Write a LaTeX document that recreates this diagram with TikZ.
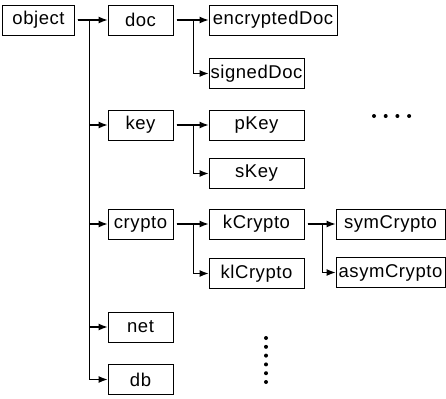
\documentclass[tikz,border=0pt]{standalone}
\usepackage{fontspec}
\setmainfont[LetterSpace=3]{Liberation Sans}
\usetikzlibrary{arrows.meta}
\tikzset{
  box/.style={draw, line width=1bp, minimum height=30bp, inner sep=0pt, font=\fontsize{18.5bp}{20bp}\selectfont},
  link/.style={->, shorten <=3bp},
}
\begin{document}
\begin{tikzpicture}[x=1bp,y=-1bp,line width=1.1bp,>={Latex[length=9bp,width=7bp]}]
	\useasboundingbox (0,0) rectangle (446,398);
	%	first level
	\node[box,minimum width=71bp] (object) at (38.5,20) {object};
	\foreach \name/\y in {doc/20,key/125,crypto/224,net/327,db/379.5}
		\node[box,minimum width=65bp] (\name) at (140.5,\y) {\name};
	%	second level
	\node[box,minimum width=128bp] (encryptedDoc) at (273,20) {encryptedDoc};
	\foreach \name/\y in {signedDoc/73.5,pKey/125,sKey/173.5,kCrypto/224,klCrypto/273.5}
		\node[box,minimum width=95bp] (\name) at (256.5,\y) {\name};
	\node[box,minimum width=109bp] (symCrypto) at (390.5,224) {symCrypto};
	\node[box,minimum width=109bp] (asymCrypto) at (390.5,272.5) {asymCrypto};
	%	connectors
	\draw[link] (object.east) -- (doc.west);
	\foreach \child in {key,crypto,net,db}
		\draw[link] (object.east) -- ++(15,0) |- (\child.west);
	\draw[link] (doc.east) -- (encryptedDoc.west);
	\draw[link] (doc.east) -- ++(20,0) |- (signedDoc.west);
	\draw[link] (key.east) -- (pKey.west);
	\draw[link] (key.east) -- ++(20,0) |- (sKey.west);
	\draw[link] (crypto.east) -- (kCrypto.west);
	\draw[link] (crypto.east) -- ++(20,0) |- (klCrypto.west);
	\draw[link] (kCrypto.east) -- (symCrypto.west);
	\draw[link] (kCrypto.east) -- ++(18,0) |- (asymCrypto.west);
	%	dots
	\foreach \i in {0,...,3}
		\fill (374+11.7*\i,116) circle(2bp);
	\foreach \i in {0,...,5}
		\fill (266,338+8.8*\i) circle(2bp);
\end{tikzpicture}
\end{document}
